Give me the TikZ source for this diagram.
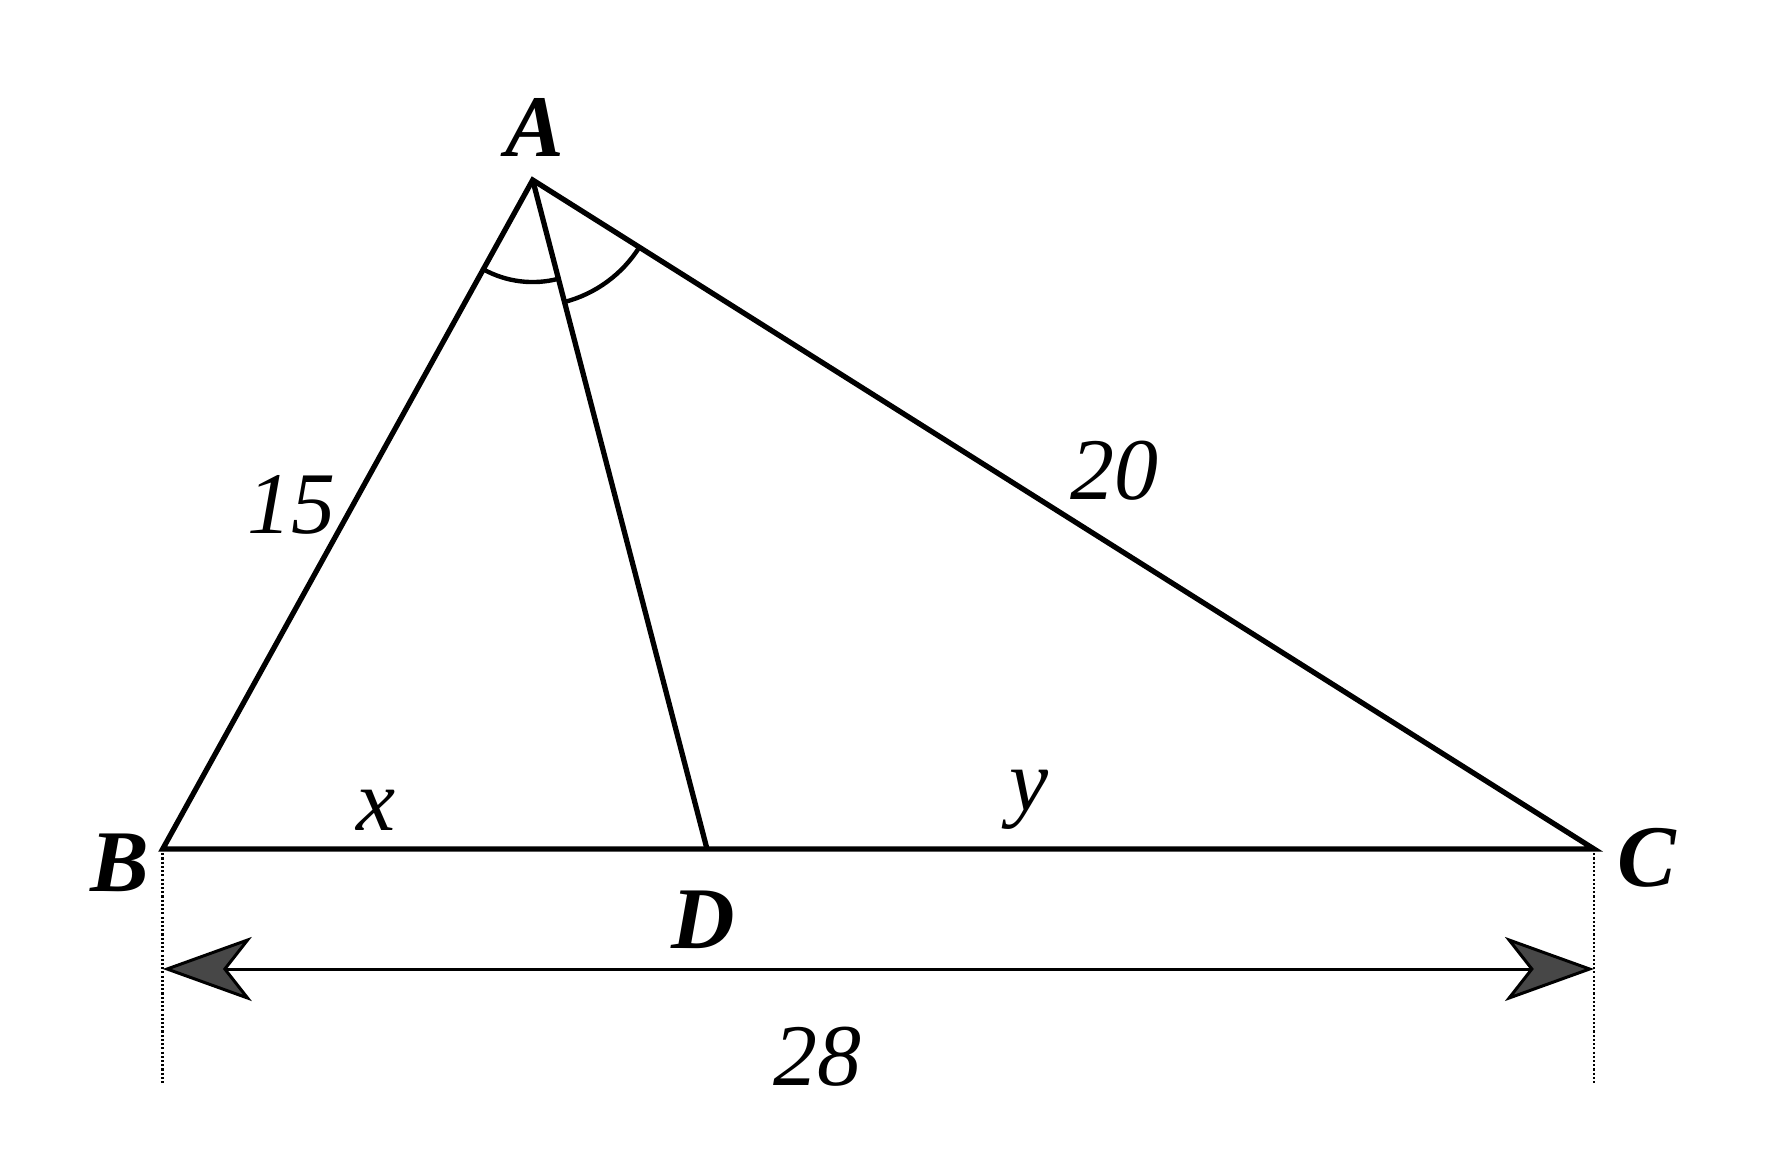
\documentclass[tikz,border=0pt]{standalone}
\usepackage{fontspec}
\setmainfont{Liberation Serif}
\usetikzlibrary{arrows.meta,angles}
\begin{document}
\begin{tikzpicture}[x=0.01cm,y=-0.01cm,
  edge/.style={line width=1.5pt,line join=miter},
  dimline/.style={line width=0.85pt,
    {Stealth[length=0.89cm,width=0.64cm,inset=0.25cm,fill=black!72]}-{Stealth[length=0.89cm,width=0.64cm,inset=0.25cm,fill=black!72]}},
  guide/.style={line width=0.75pt,dash pattern=on 0.6pt off 0.6pt},
  vlabel/.style={inner sep=0pt,font=\fontsize{25}{30}\selectfont\bfseries\itshape},
  mlabel/.style={inner sep=0pt,font=\fontsize{25}{30}\selectfont\itshape},
  anglemark/.style={draw,line width=1.25pt}]
\useasboundingbox (0,0) rectangle (1770,1176);
\coordinate (A) at (532.7,180);
\coordinate (B) at (162.7,849);
\coordinate (C) at (1594,849);
\coordinate (D) at (707,849);
\coordinate (Bd) at (162.7,969);
\coordinate (Cd) at (1594,969);
\coordinate (Be) at (162.7,1083);
\coordinate (Ce) at (1594,1083);
% angle marks
\pic[anglemark,angle radius=1.02cm] {angle=B--A--D};
\pic[anglemark,angle radius=1.26cm] {angle=D--A--C};
% triangle
\draw[edge] (A) -- (B) -- (C) -- cycle;
\draw[edge] (A) -- (D);
% guides
\draw[guide] (B) -- (Be);
\draw[guide] (C) -- (Ce);
% dimension arrow
\draw[dimline] (Bd) -- (Cd);
% labels
\node[vlabel] (lA) at (535,127) {A};
\node[vlabel] (lB) at (120,863) {B};
\node[vlabel] (lC) at (1647,858) {C};
\node[vlabel] (lD) at (703,920) {D};
\node[mlabel] (lx) at (376,810) {x};
\node[mlabel] (ly) at (1029,800) {y};
\node[mlabel] (l15) at (291,505) {15};
\node[mlabel] (l20) at (1114,471) {20};
\node[mlabel] (l28) at (817,1057) {28};
\end{tikzpicture}
\end{document}
